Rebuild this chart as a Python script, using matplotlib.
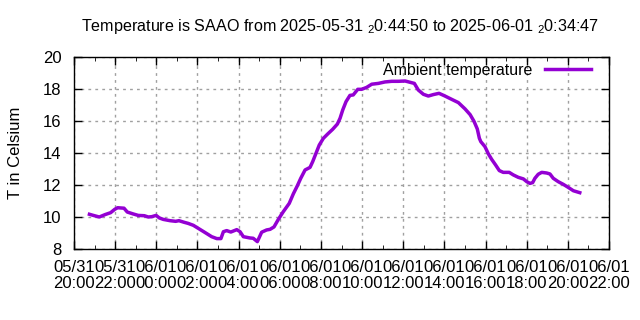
import numpy as np
import pandas as pd
import matplotlib
matplotlib.use("Agg")
import matplotlib.pyplot as plt
import matplotlib.dates as mdates

plt.rcParams['font.family'] = ['Liberation Sans', 'DejaVu Sans']
plt.rcParams['mathtext.fontset'] = 'custom'
plt.rcParams['mathtext.rm'] = 'Liberation Sans'

# hours after 2025-05-31 20:00
hours = [0.75, 0.94, 1.23, 1.51, 1.78, 1.98, 2.12, 2.43, 2.59, 2.88, 3.12, 3.42, 3.61, 3.78,
         3.99, 4.15, 4.34, 4.67, 4.94, 5.10, 5.35, 5.55, 5.80, 6.04, 6.28, 6.48, 6.69, 6.94,
         7.14, 7.26, 7.42, 7.62, 7.91, 8.07, 8.23, 8.55, 8.71, 8.91, 9.12, 9.36, 9.53, 9.72,
         9.93, 10.17, 10.46, 10.66, 10.85, 11.02, 11.23, 11.47, 11.60, 11.76, 11.92, 12.12,
         12.33, 12.57, 12.80, 12.93, 13.06, 13.22, 13.41, 13.57, 13.79, 13.98, 14.22, 14.47,
         14.79, 15.11, 15.44, 15.76, 16.09, 16.33, 16.54, 16.73, 16.98, 17.22, 17.46, 17.74,
         18.03, 18.36, 18.68, 19.00, 19.25, 19.44, 19.60, 19.70, 19.77, 19.97, 20.14, 20.30,
         20.49, 20.67, 20.86, 21.15, 21.35, 21.59, 21.84, 22.00, 22.16, 22.29, 22.40, 22.56,
         22.73, 22.97, 23.13, 23.29, 23.53, 23.78, 24.02, 24.27, 24.58]
temps = [10.17, 10.10, 10.00, 10.15, 10.27, 10.48, 10.58, 10.55, 10.31, 10.19, 10.10, 10.08,
         10.00, 10.02, 10.10, 9.94, 9.85, 9.77, 9.73, 9.77, 9.67, 9.60, 9.48, 9.29, 9.10, 8.94,
         8.77, 8.65, 8.65, 9.08, 9.15, 9.06, 9.21, 9.08, 8.77, 8.69, 8.67, 8.46, 9.05, 9.19,
         9.23, 9.38, 9.85, 10.33, 10.85, 11.45, 11.94, 12.42, 12.94, 13.10, 13.46, 13.98, 14.50,
         14.92, 15.19, 15.48, 15.81, 16.17, 16.69, 17.21, 17.60, 17.63, 17.98, 17.98, 18.10,
         18.30, 18.35, 18.44, 18.48, 18.48, 18.50, 18.42, 18.35, 17.94, 17.67, 17.56, 17.65,
         17.73, 17.56, 17.35, 17.15, 16.76, 16.40, 15.98, 15.50, 14.92, 14.71, 14.40, 13.94,
         13.60, 13.25, 12.90, 12.79, 12.79, 12.63, 12.48, 12.38, 12.21, 12.10, 12.15, 12.42,
         12.67, 12.79, 12.75, 12.69, 12.42, 12.21, 12.04, 11.85, 11.64, 11.52]

t0 = pd.Timestamp("2025-05-31 20:00")
times = t0 + pd.to_timedelta(hours, unit="h")

fs = 12
fig = plt.figure(figsize=(6.4, 3.2), dpi=100)
ax = fig.add_axes([74/640, 71/320, 535/640, 192/320])

ax.plot(times, temps, color="#9400d3", linewidth=2.5, label="Ambient temperature")

ax.set_xlim(t0, t0 + pd.Timedelta(hours=26))
ax.set_ylim(8, 20)
ax.set_yticks(np.arange(8, 21, 2))
ax.xaxis.set_major_locator(mdates.HourLocator(byhour=range(0, 24, 2)))
ax.xaxis.set_minor_locator(mdates.HourLocator())
ax.xaxis.set_major_formatter(mdates.DateFormatter("%m/%d\n%H:%M"))

ax.grid(True, which="major", color="#a0a0a0", linestyle=(0, (2, 3)), linewidth=1)
ax.tick_params(direction="in", top=True, right=True, labelsize=fs, length=6, width=1)
ax.tick_params(which="minor", direction="in", top=True, length=3)
ax.tick_params(axis="y", pad=9)
ax.tick_params(axis="x", pad=8)
for lbl in ax.get_xticklabels():
    lbl.set_linespacing(1.05)
for s in ax.spines.values():
    s.set_linewidth(1)

ax.set_ylabel("T in Celsium", fontsize=fs, labelpad=14)
fig.suptitle(r"Temperature is SAAO from 2025-05-31 $_{\mathrm{2}}$0:44:50 to 2025-06-01 $_{\mathrm{2}}$0:34:47",
             fontsize=11.6, x=(83+597)/2/640, y=1-27/320, va="center")

ax.legend(loc="upper right", bbox_to_anchor=(0.9664, 0.97), frameon=False, markerfirst=False,
          fontsize=11.5, handlelength=2.9, borderaxespad=0, borderpad=0, handletextpad=0.75)

fig.savefig("out.png", dpi=100)
